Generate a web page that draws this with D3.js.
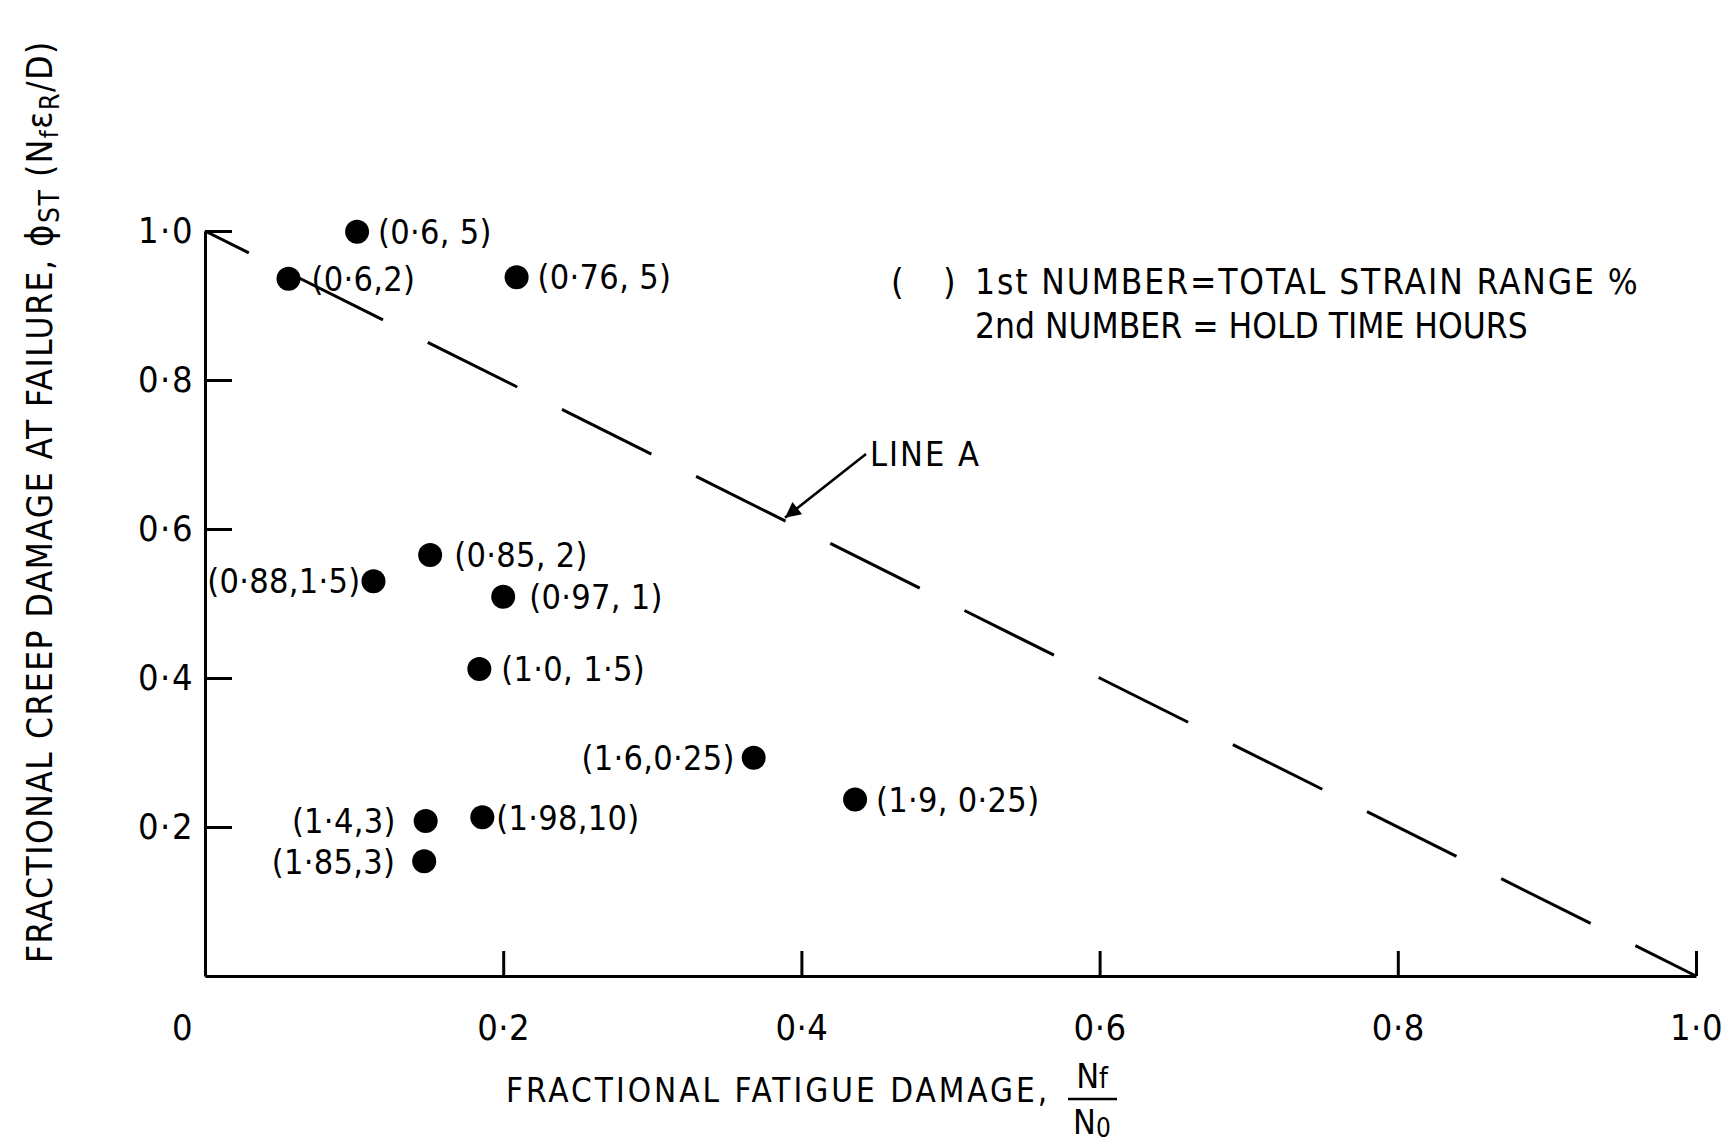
<!DOCTYPE html>
<html><head><meta charset="utf-8">
<script src="https://cdn.jsdelivr.net/npm/d3@7"></script>
<style>
body{margin:0;background:#fff;}
svg text{font-family:"Liberation Sans Narrow","DejaVu Sans Condensed","Liberation Sans",sans-serif;fill:#000;}
</style></head><body>
<svg id="c" width="1726" height="1145"></svg>
<script>
// ---- data ----
const labelText = ["(0·6, 5)","(0·6,2)","(0·76, 5)","(0·85, 2)","(0·88,1·5)","(0·97, 1)","(1·0, 1·5)","(1·6,0·25)","(1·9, 0·25)","(1·4,3)","(1·98,10)","(1·85,3)"];
const fatigueDamage = [0.102,0.056,0.209,0.151,0.113,0.200,0.184,0.368,0.436,0.148,0.186,0.147];
const creepDamage   = [0.999,0.936,0.938,0.565,0.530,0.509,0.412,0.293,0.237,0.208,0.213,0.154];
const xTickValues = [0,0.2,0.4,0.6,0.8,1.0];
const xTickLabels = ["0","0·2","0·4","0·6","0·8","1·0"];
const yTickValues = [0.2,0.4,0.6,0.8,1.0];
const yTickLabels = ["0·2","0·4","0·6","0·8","1·0"];
const lineAFatigue = [0,1];
const lineACreep = [1,0];
const legendLines = ["1st NUMBER=TOTAL STRAIN RANGE %","2nd NUMBER = HOLD TIME HOURS"];

// ---- layout ----
const labelSide = ["r","r","r","r","l","r","r","l","r","l","r","l"];
const labelGap  = [21,23,21,24,13,26,22,19,21,30,14,29];
const legendSpacing = [1.9, 0];

const svg = d3.select("#c");
const x = d3.scaleLinear().domain([0,1]).range([205,1696]);
const y = d3.scaleLinear().domain([0,1]).range([976,231]);

// axes
const ya = svg.append("g").attr("transform",`translate(${x(0)},0)`)
  .call(d3.axisLeft(y).tickValues(yTickValues).tickFormat((d,i)=>yTickLabels[i])
    .tickSize(-27).tickSizeOuter(0).tickPadding(11));
const xa = svg.append("g").attr("transform",`translate(0,${y(0)})`)
  .call(d3.axisBottom(x).tickValues(xTickValues).tickFormat((d,i)=>xTickLabels[i])
    .tickSize(-25).tickSizeOuter(0).tickPadding(38));
[ya,xa].forEach(g=>{
  g.attr("font-family",null).attr("font-size",null);
  g.selectAll("path.domain").attr("stroke","#000").attr("stroke-width",3);
  g.selectAll(".tick line").attr("stroke","#000").attr("stroke-width",3);
  g.selectAll(".tick text").style("font-size","36px").style("letter-spacing","1.5px");
});
xa.selectAll(".tick text").style("letter-spacing","0.5px");
xa.selectAll(".tick").filter(d=>d===0).select("line").remove();
xa.selectAll(".tick").filter(d=>d===0).select("text").attr("dx",-23);

// line A
svg.append("path")
  .attr("d", d3.line()(lineAFatigue.map((f,i)=>[x(f),y(lineACreep[i])])))
  .attr("stroke","#000").attr("stroke-width",3).attr("fill","none")
  .attr("stroke-dasharray","100 50").attr("stroke-dashoffset",51);

// points
const pts = svg.append("g");
fatigueDamage.forEach((f,i)=>{
  pts.append("circle").attr("cx",x(f)).attr("cy",y(creepDamage[i])).attr("r",12).attr("fill","#000");
  const right = labelSide[i]==="r";
  pts.append("text")
    .attr("x", right ? x(f)+labelGap[i] : x(f)-labelGap[i])
    .attr("y", y(creepDamage[i]))
    .attr("dy","0.36em")
    .attr("text-anchor", right ? "start":"end")
    .style("font-size","34px").style("letter-spacing","0.3px")
    .text(labelText[i]);
});

// LINE A annotation
const tipF = 0.389;
const tip = [x(tipF), y(1-tipF)];
const start = [866, 454];
svg.append("defs").append("marker").attr("id","ah").attr("viewBox","0 0 10 10")
  .attr("refX",10).attr("refY",5).attr("markerWidth",10).attr("markerHeight",6)
  .attr("markerUnits","strokeWidth").attr("orient","auto")
  .append("path").attr("d","M0,0L10,5L0,10Z").attr("fill","#000");
svg.append("line").attr("x1",start[0]).attr("y1",start[1]).attr("x2",tip[0]).attr("y2",tip[1]-3)
  .attr("stroke","#000").attr("stroke-width",2.6).attr("marker-end","url(#ah)");
svg.append("text").attr("x",870).attr("y",454).attr("dy","0.36em")
  .style("font-size","34px").style("letter-spacing","2px").text("LINE A");

// legend
svg.append("text").attr("x",891).attr("y",281).attr("dy","0.36em")
  .style("font-size","36px").text("(");
svg.append("text").attr("x",943).attr("y",281).attr("dy","0.36em")
  .style("font-size","36px").text(")");
legendLines.forEach((t,i)=>{
  svg.append("text").attr("x",975).attr("y",281+44*i).attr("dy","0.36em")
    .style("font-size","35px").style("letter-spacing",legendSpacing[i]+"px").text(t);
});

// y title
const yt = svg.append("text").attr("transform","translate(52,963) rotate(-90)")
  .style("font-size","35px").style("letter-spacing","1.5px");
yt.append("tspan").text("FRACTIONAL CREEP DAMAGE AT FAILURE, ");
yt.append("tspan").text("ϕ").style("font-size","38px");
yt.append("tspan").attr("dy",7).style("font-size","28px").text("ST");
yt.append("tspan").attr("dy",-7).style("font-size","35px").text(" (N");
yt.append("tspan").attr("dy",6).style("font-size","25px").text("f");
yt.append("tspan").attr("dy",-6).style("font-size","35px").text("ε");
yt.append("tspan").attr("dy",7).style("font-size","27px").text("R");
yt.append("tspan").attr("dy",-7).style("font-size","35px").text("/D)");

// x title
svg.append("text").attr("x",506).attr("y",1102)
  .style("font-size","33px").style("letter-spacing","3px").text("FRACTIONAL  FATIGUE DAMAGE,");
const num = svg.append("text").attr("x",1092).attr("y",1088).attr("text-anchor","middle").style("font-size","34px");
num.append("tspan").text("N");
num.append("tspan").style("font-size","28px").text("f");
svg.append("line").attr("x1",1068).attr("x2",1117).attr("y1",1099).attr("y2",1099)
  .attr("stroke","#000").attr("stroke-width",2.6);
const den = svg.append("text").attr("x",1092).attr("y",1134).attr("text-anchor","middle").style("font-size","34px");
den.append("tspan").text("N");
den.append("tspan").attr("dy",3).style("font-size","26px").text("0");
</script></body></html>
